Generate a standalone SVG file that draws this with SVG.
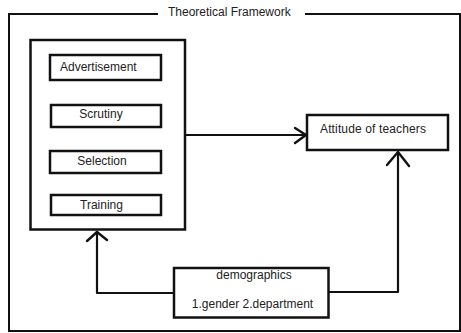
<svg xmlns="http://www.w3.org/2000/svg" width="461" height="333" viewBox="0 0 461 333">
  <style>
    .box { fill: #fff; stroke: #111; stroke-width: 2.5; }
    .frame { fill: none; stroke: #111; stroke-width: 2; }
    .line { fill: none; stroke: #111; stroke-width: 2.2; stroke-linejoin: round; }
    .head { fill: none; stroke: #111; stroke-width: 2.4; stroke-linecap: round; stroke-linejoin: round; }
    text { font-family: "Liberation Sans", Arial, sans-serif; font-size: 12px; fill: #222; }
    .mid { text-anchor: middle; }
  </style>
  <rect width="461" height="333" fill="#fff"/>
  <g id="frame">
    <path class="frame" d="M158,14 H9 V331 H460 V14 H305"/>
    <text x="168" y="16">Theoretical Framework</text>
  </g>
  <g id="connectors">
    <path class="line" d="M185,135 H306"/>
    <path class="head" d="M295,128 L306,135 L295,143"/>
    <path class="line" d="M329,292 H398 V152"/>
    <path class="head" d="M387,165 L398,152 L409,166"/>
    <path class="line" d="M174,293 H97 V231"/>
    <path class="head" d="M87,241 L97,232 L107,240"/>
  </g>
  <g id="group-box">
    <rect class="box" x="30.5" y="40" width="154.5" height="189.5"/>
  </g>
  <g id="advertisement">
    <rect class="box" x="50" y="55" width="111" height="25"/>
    <text x="60" y="71">Advertisement</text>
  </g>
  <g id="scrutiny">
    <rect class="box" x="51" y="105" width="110" height="22"/>
    <text class="mid" x="101" y="118">Scrutiny</text>
  </g>
  <g id="selection">
    <rect class="box" x="50" y="151" width="111" height="22"/>
    <text class="mid" x="102" y="165">Selection</text>
  </g>
  <g id="training">
    <rect class="box" x="51" y="195" width="110" height="20"/>
    <text class="mid" x="101.5" y="209">Training</text>
  </g>
  <g id="attitude">
    <rect class="box" x="307" y="115" width="141" height="35"/>
    <text x="320" y="133" textLength="106">Attitude of teachers</text>
  </g>
  <g id="demographics">
    <rect class="box" x="174" y="268" width="154.5" height="49.5"/>
    <text class="mid" x="254" y="279">demographics</text>
    <text class="mid" x="252.5" y="308">1.gender 2.department</text>
  </g>
</svg>
